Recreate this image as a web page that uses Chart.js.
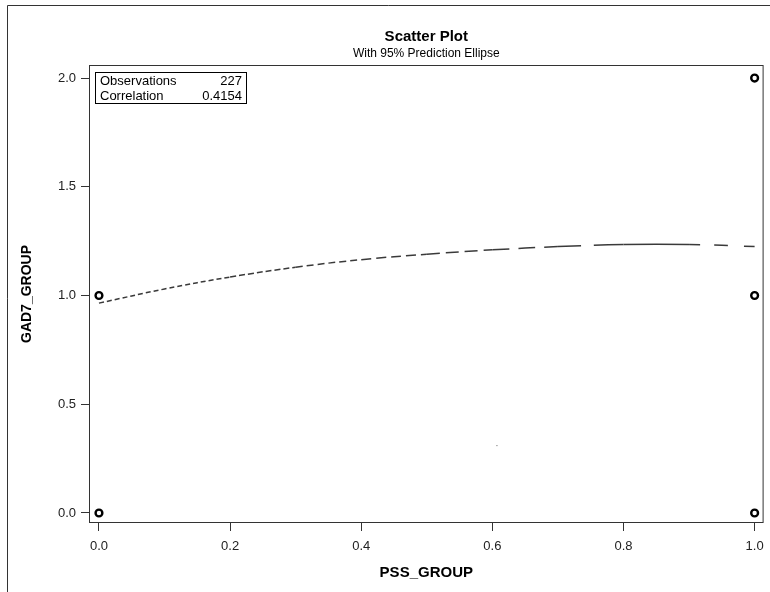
<!DOCTYPE html>
<html>
<head>
<meta charset="utf-8">
<script src="https://cdn.jsdelivr.net/npm/chart.js@4.4.1/dist/chart.umd.min.js"></script>
<style>
  html, body { margin: 0; padding: 0; background: #fff; }
  #wrap { width: 770px; height: 592px; position: relative; }
</style>
</head>
<body>
<div id="wrap"><canvas id="chart" width="770" height="592"></canvas></div>
<script>
'use strict';

// observed (PSS_GROUP, GAD7_GROUP) combos
const obsX = [0, 0, 1, 1, 1];
const obsY = [0, 1, 0, 1, 2];

// visible piece of the 95% prediction ellipse
const ellX = [0, 0.1, 0.2, 0.3, 0.4, 0.5, 0.6, 0.7, 0.8, 0.9, 1.0];
const ellY = [0.965, 1.03, 1.085, 1.13, 1.165, 1.19, 1.21, 1.225, 1.235, 1.235, 1.225];

// stray speck near the bottom of the plot
const speckX = [0.607];
const speckY = [0.31];

const xTicks = [0, 0.2, 0.4, 0.6, 0.8, 1.0];
const yTicks = [0, 0.5, 1.0, 1.5, 2.0];

const statLabels = ['Observations', 'Correlation'];
const statValues = ['227', '0.4154'];

const FONT = '"Liberation Sans", Arial, sans-serif';

function toPoints(xs, ys) {
  return xs.map((x, i) => ({x: x, y: ys[i]}));
}

// dashes get longer along the curve, one stretch is solid
const dashes = [[5, 3], [5, 3], [6, 3], [7, 4], [10, 5], [13, 6], [17, 9],
  [23, 13, 100, 0], [], [11, 14, 14, 16, 13]];
function ellDash(ctx) {
  return dashes[ctx.p0DataIndex] || [];
}

const framePlugin = {
  id: 'frame',
  beforeDraw(chart) {
    const c = chart.ctx;
    c.save();
    c.fillStyle = '#fff';
    c.fillRect(0, 0, chart.width, chart.height);
    // outer graph border
    c.strokeStyle = '#333';
    c.lineWidth = 1;
    c.beginPath();
    c.moveTo(7.5, chart.height);
    c.lineTo(7.5, 5.5);
    c.lineTo(chart.width, 5.5);
    c.stroke();
    // titles
    c.fillStyle = '#000';
    c.textAlign = 'center';
    c.textBaseline = 'middle';
    const cx = (chart.chartArea.left + chart.chartArea.right) / 2;
    c.font = 'bold 15px ' + FONT;
    c.fillText('Scatter Plot', cx, 37);
    c.font = '12px ' + FONT;
    c.fillText('With 95% Prediction Ellipse', cx, 54);
    c.restore();
  },
  beforeDatasetsDraw(chart) {
    const a = chart.chartArea;
    const c = chart.ctx;
    c.save();
    c.strokeStyle = '#333';
    c.lineWidth = 1;
    c.strokeRect(a.left + 0.5, a.top + 0.5, a.right - a.left - 1, a.bottom - a.top - 1);
    c.restore();
  },
  afterDatasetsDraw(chart) {
    // inset stats table
    const a = chart.chartArea;
    const c = chart.ctx;
    const bx = a.left + 6, by = a.top + 7, bw = 151, bh = 31;
    c.save();
    c.fillStyle = '#fff';
    c.fillRect(bx, by, bw, bh);
    c.strokeStyle = '#000';
    c.lineWidth = 1;
    c.strokeRect(bx + 0.5, by + 0.5, bw, bh);
    c.fillStyle = '#000';
    c.font = '13px ' + FONT;
    c.textBaseline = 'middle';
    statLabels.forEach((lab, i) => {
      const ty = by + 9 + i * 15;
      c.textAlign = 'left';
      c.fillText(lab, bx + 5, ty);
      c.textAlign = 'right';
      c.fillText(statValues[i], bx + bw - 4, ty);
    });
    c.restore();
  }
};

const ctx = document.getElementById('chart');
const chart = new Chart(ctx, {
  type: 'scatter',
  data: {
    datasets: [{
      label: 'Ellipse',
      type: 'line',
      data: toPoints(ellX, ellY),
      borderColor: '#3a3a3a',
      borderWidth: 1.5,
      pointRadius: 0,
      fill: false,
      tension: 0.4,
      segment: {borderDash: ellDash}
    }, {
      label: 'Observed',
      data: toPoints(obsX, obsY),
      pointStyle: 'circle',
      pointRadius: 3.4,
      pointBorderWidth: 2.4,
      pointBorderColor: '#000',
      pointBackgroundColor: '#fff',
      showLine: false
    }, {
      label: 'speck',
      data: toPoints(speckX, speckY),
      pointRadius: 0.7,
      pointBorderWidth: 0,
      pointBackgroundColor: '#777'
    }]
  },
  options: {
    responsive: false,
    animation: false,
    layout: {padding: {top: 65, left: 7, right: 6, bottom: 0}},
    plugins: {
      legend: {display: false},
      tooltip: {enabled: false}
    },
    scales: {
      x: {
        type: 'linear',
        min: -0.0152,
        max: 1.0137,
        afterFit: s => { s.height = 69; s.paddingLeft = 0; s.paddingRight = 0; },
        afterBuildTicks: s => { s.ticks = xTicks.map(v => ({value: v})); },
        grid: {drawOnChartArea: false, drawTicks: true, tickLength: 8, color: '#333'},
        border: {display: false},
        ticks: {
          padding: 8,
          color: '#222',
          font: {family: FONT, size: 13},
          maxRotation: 0,
          callback: v => v.toFixed(1)
        },
        title: {
          display: true,
          text: 'PSS_GROUP',
          color: '#000',
          font: {family: FONT, size: 15, weight: 'bold'},
          padding: {bottom: 10}
        }
      },
      y: {
        type: 'linear',
        min: -0.046,
        max: 2.06,
        afterFit: s => { s.width = 82; s.paddingTop = 0; s.paddingBottom = 0; },
        afterBuildTicks: s => { s.ticks = yTicks.map(v => ({value: v})); },
        grid: {drawOnChartArea: false, drawTicks: true, tickLength: 8, color: '#333'},
        border: {display: false},
        ticks: {
          padding: 5,
          color: '#222',
          font: {family: FONT, size: 13},
          callback: v => v.toFixed(1)
        },
        title: {
          display: true,
          text: 'GAD7_GROUP',
          color: '#000',
          font: {family: FONT, size: 14, weight: 'bold'},
          padding: {top: 12}
        }
      }
    }
  },
  plugins: [framePlugin]
});
</script>
</body>
</html>
